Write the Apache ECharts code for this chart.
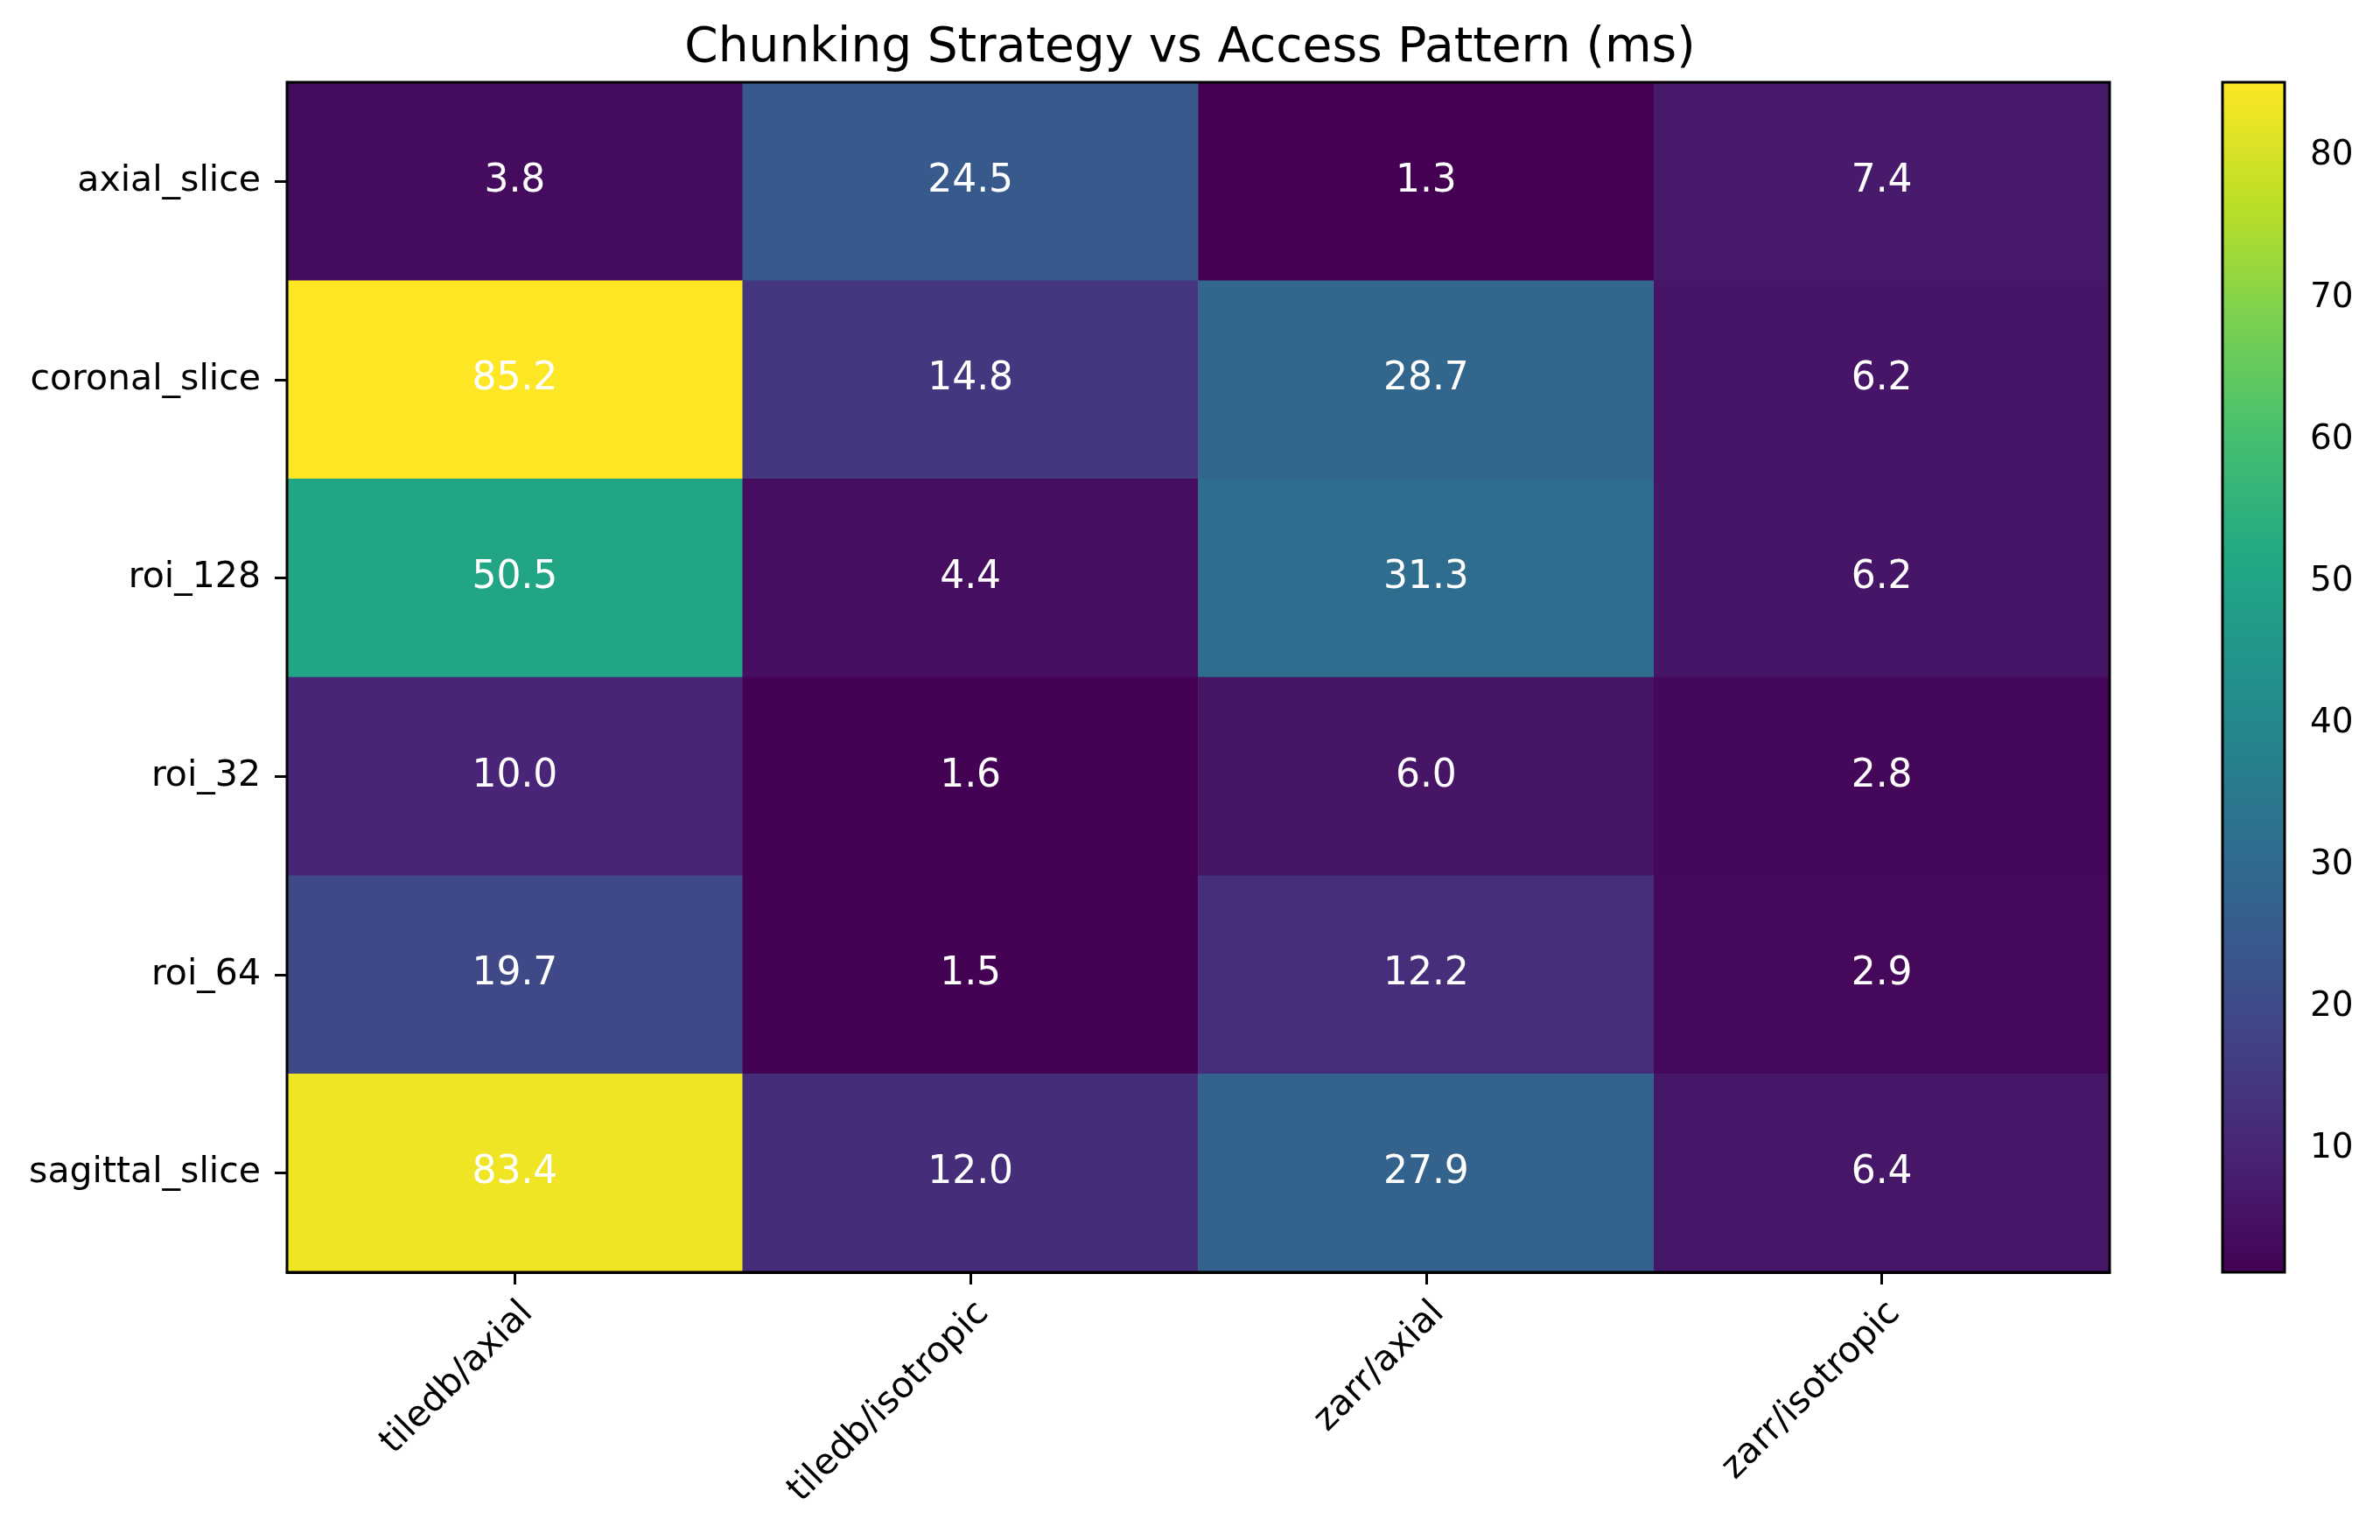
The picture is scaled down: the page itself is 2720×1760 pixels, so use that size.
<!DOCTYPE html>
<html>
<head>
<meta charset="utf-8">
<script src="https://cdn.jsdelivr.net/npm/echarts@6/dist/echarts.min.js"></script>
<style>html,body{margin:0;padding:0;background:#fff}#c{width:2720px;height:1760px}</style>
</head>
<body>
<div id="c"></div>
<script>
const title = 'Chunking Strategy vs Access Pattern (ms)';
const strategies = ['tiledb/axial', 'tiledb/isotropic', 'zarr/axial', 'zarr/isotropic'];
const patterns = ['axial_slice', 'coronal_slice', 'roi_128', 'roi_32', 'roi_64', 'sagittal_slice'];
const axial_slice    = [3.8, 24.5, 1.3, 7.4];
const coronal_slice  = [85.2, 14.8, 28.7, 6.2];
const roi_128        = [50.5, 4.4, 31.3, 6.2];
const roi_32         = [10.0, 1.6, 6.0, 2.8];
const roi_64         = [19.7, 1.5, 12.2, 2.9];
const sagittal_slice = [83.4, 12.0, 27.9, 6.4];
const cbarTicks = [10, 20, 30, 40, 50, 60, 70, 80];

const rows = [axial_slice, coronal_slice, roi_128, roi_32, roi_64, sagittal_slice];
const data = [];
rows.forEach((r, yi) => r.forEach((v, xi) => data.push([xi, yi, v])));
const all = rows.flat();
const vmin = Math.min(...all), vmax = Math.max(...all);

const viridis = ['#440154','#482475','#414487','#355f8d','#2a788e','#21918c','#22a884','#44bf70','#7ad151','#bddf26','#fde725'];
const FONT = 'DejaVu Sans';

const chart = echarts.init(document.getElementById('c'), null, {renderer: 'canvas'});
chart.setOption({
  backgroundColor: '#fff',
  animation: false,
  title: {
    text: title, left: 'center', top: 28, padding: 0,
    textStyle: {fontFamily: FONT, fontSize: 55, fontWeight: 'normal', color: '#000'}
  },
  grid: [
    {left: 328, right: 309, top: 94, bottom: 306, show: true, borderColor: '#000', borderWidth: 3, backgroundColor: 'transparent', z: 10},
    {left: 2540, width: 71, top: 94, height: 1360, show: true, borderColor: '#000', borderWidth: 3, backgroundColor: 'transparent', z: 10}
  ],
  xAxis: [
    {type: 'category', data: strategies, gridIndex: 0, position: 'bottom',
     axisLine: {show: true, onZero: false, lineStyle: {color: '#000', width: 3}},
     axisTick: {show: true, alignWithLabel: true, length: 14, lineStyle: {color: '#000', width: 3}},
     axisLabel: {rotate: 45, align: 'right', verticalAlign: 'top', margin: 26, fontFamily: FONT, fontSize: 41, color: '#000'},
     splitLine: {show: false}},
    {type: 'value', gridIndex: 1, show: false}
  ],
  yAxis: [
    {type: 'category', data: patterns, gridIndex: 0, inverse: true,
     axisLine: {show: true, onZero: false, lineStyle: {color: '#000', width: 3}},
     axisTick: {show: true, alignWithLabel: true, length: 14, lineStyle: {color: '#000', width: 3}},
     axisLabel: {margin: 30, fontFamily: FONT, fontSize: 41, color: '#000'},
     splitLine: {show: false}},
    {type: 'value', gridIndex: 1, position: 'right', min: vmin, max: vmax,
     axisLine: {show: false},
     axisTick: {show: true, customValues: cbarTicks, length: 14, lineStyle: {color: '#000', width: 3}},
     axisLabel: {show: true, customValues: cbarTicks, margin: 29, fontFamily: FONT, fontSize: 39, color: '#000'},
     splitLine: {show: false}}
  ],
  visualMap: {
    type: 'continuous', seriesIndex: 0, dimension: 2, min: vmin, max: vmax,
    calculable: false, hoverLink: false, orient: 'vertical',
    left: 2540, top: 94, padding: 0, itemWidth: 71, itemHeight: 1360,
    text: null, showLabel: false,
    inRange: {color: viridis}
  },
  series: [{
    type: 'heatmap', xAxisIndex: 0, yAxisIndex: 0, data: data,
    itemStyle: {borderWidth: 0},
    emphasis: {disabled: true},
    label: {show: true, color: '#fff', fontFamily: FONT, fontSize: 44,
      formatter: p => p.value[2].toFixed(1)}
  }]
});
</script>
</body>
</html>
